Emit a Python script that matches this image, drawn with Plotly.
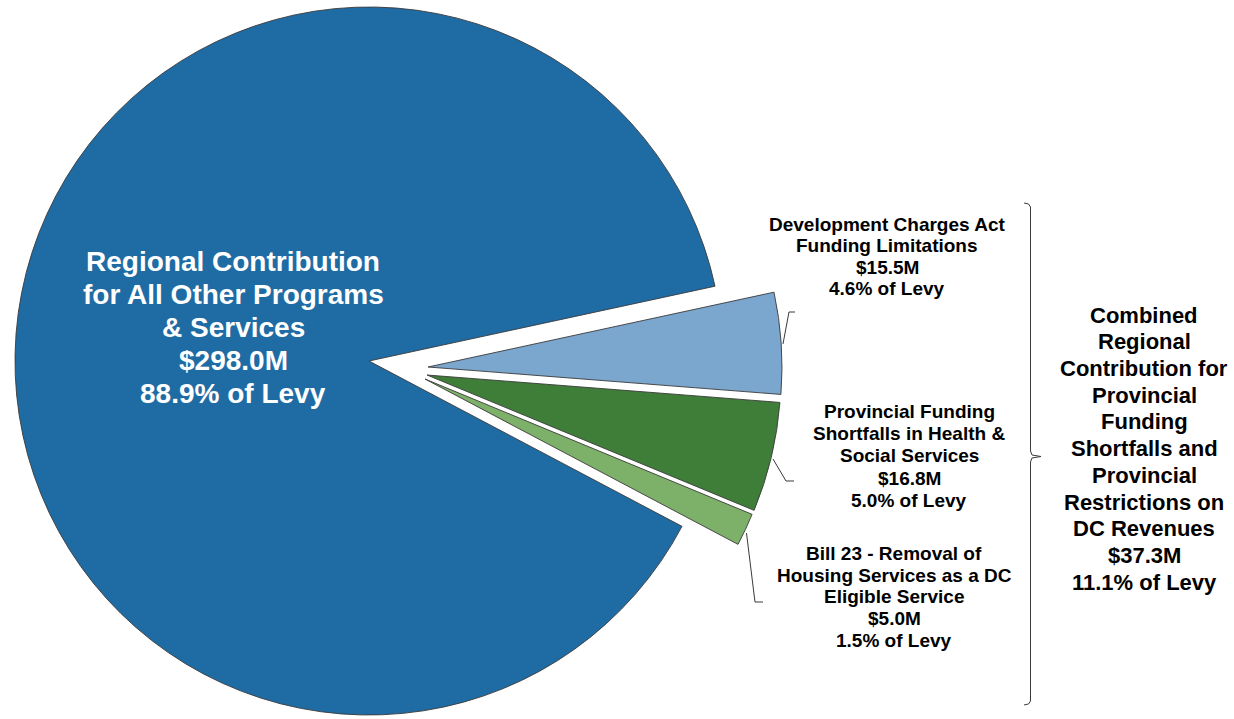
import plotly.graph_objects as go

# ---------------- data ----------------
categories = [
    "Development Charges Act Funding Limitations",
    "Provincial Funding Shortfalls in Health & Social Services",
    "Bill 23 - Removal of Housing Services as a DC Eligible Service",
    "Regional Contribution for All Other Programs & Services",
]
values = [15.5, 16.8, 5.0, 298.0]          # $M
amount_text = ["$15.5M", "$16.8M", "$5.0M", "$298.0M"]
pct_text = ["4.6% of Levy", "5.0% of Levy", "1.5% of Levy", "88.9% of Levy"]
name_lines = [
    ["Development Charges Act", "Funding Limitations"],
    ["Provincial Funding", "Shortfalls in Health &", "Social Services"],
    ["Bill 23 - Removal of", "Housing Services as a DC", "Eligible Service"],
    ["Regional Contribution", "for All Other Programs", "& Services"],
]
combined_lines = ["Combined", "Regional", "Contribution for", "Provincial", "Funding",
                  "Shortfalls and", "Provincial", "Restrictions on", "DC Revenues",
                  "$37.3M", "11.1% of Levy"]

colors = ["#7BA6CE", "#3F7E38", "#7DB068", "#1F6CA5"]

# ---------------- layout helpers ----------------
W, H = 1234, 760
FONT = "Liberation Sans, Arial, sans-serif"

def px(x):
    return x / W

def py(y):
    return 1 - y / H

fig = go.Figure()

# each slice drawn by its own pie trace (others transparent) so each can be offset
slice_centers = [(428, 367), (427, 375), (425, 379), (369, 361)]
R = 354
for i, (cx, cy) in enumerate(slice_centers):
    cols = [colors[j] if j == i else "rgba(0,0,0,0)" for j in range(len(values))]
    lw = [0.9 if j == i else 0 for j in range(len(values))]
    fig.add_trace(go.Pie(
        labels=categories, values=values, sort=False, direction="clockwise",
        rotation=77.8, textinfo="none", hoverinfo="label+value+percent",
        marker=dict(colors=cols, line=dict(color="#3a3a3a", width=lw)),
        domain=dict(x=[px(cx - R), px(cx + R)], y=[py(cy + R), py(cy - R)]),
        showlegend=False,
    ))

def add_lines(lines, cx, first_baseline, spacing, size, color):
    for k, line in enumerate(lines):
        base = first_baseline + k * spacing
        yc = base - 0.3465 * size
        fig.add_annotation(x=px(cx), y=py(yc), xref="paper", yref="paper",
                           text=line, showarrow=False, xanchor="center", yanchor="middle",
                           font=dict(family=FONT, size=size, color=color, weight="bold"))

label_specs = [  # cx, first baseline, spacing, size, color
    (887, 231, 21.3, 19, "black"),
    (909, 418.3, 22.1, 19, "black"),
    (894, 560, 21.7, 19, "black"),
    (233, 271.7, 32.9, 28, "white"),
]
for i, (cx, fb, sp, sz, col) in enumerate(label_specs):
    add_lines(name_lines[i] + [amount_text[i], pct_text[i]], cx, fb, sp, sz, col)

add_lines(combined_lines, 1144, 322.7, 26.73, 22, "black")

# leader lines and brace
def path(points):
    return "M " + " L ".join(f"{px(x):.5f},{py(y):.5f}" for x, y in points)

leaders = [
    [(795, 312), (789, 312), (783, 344)],
    [(773, 459), (786, 481), (794, 481)],
    [(746.5, 533), (755, 602), (763, 602)],
    [(1024, 203), (1028.5, 204), (1030.5, 207), (1030.5, 451), (1032, 455),
     (1041, 456.5), (1032, 458), (1030.5, 462), (1030.5, 701), (1028.5, 704), (1024, 705)],
]
for pts in leaders:
    fig.add_shape(type="path", path=path(pts), xref="paper", yref="paper",
                  line=dict(color="#3a3a3a", width=1))

fig.update_layout(
    width=W, height=H, margin=dict(l=0, r=0, t=0, b=0),
    paper_bgcolor="white", plot_bgcolor="white", showlegend=False,
)

fig.write_html("out.html")
